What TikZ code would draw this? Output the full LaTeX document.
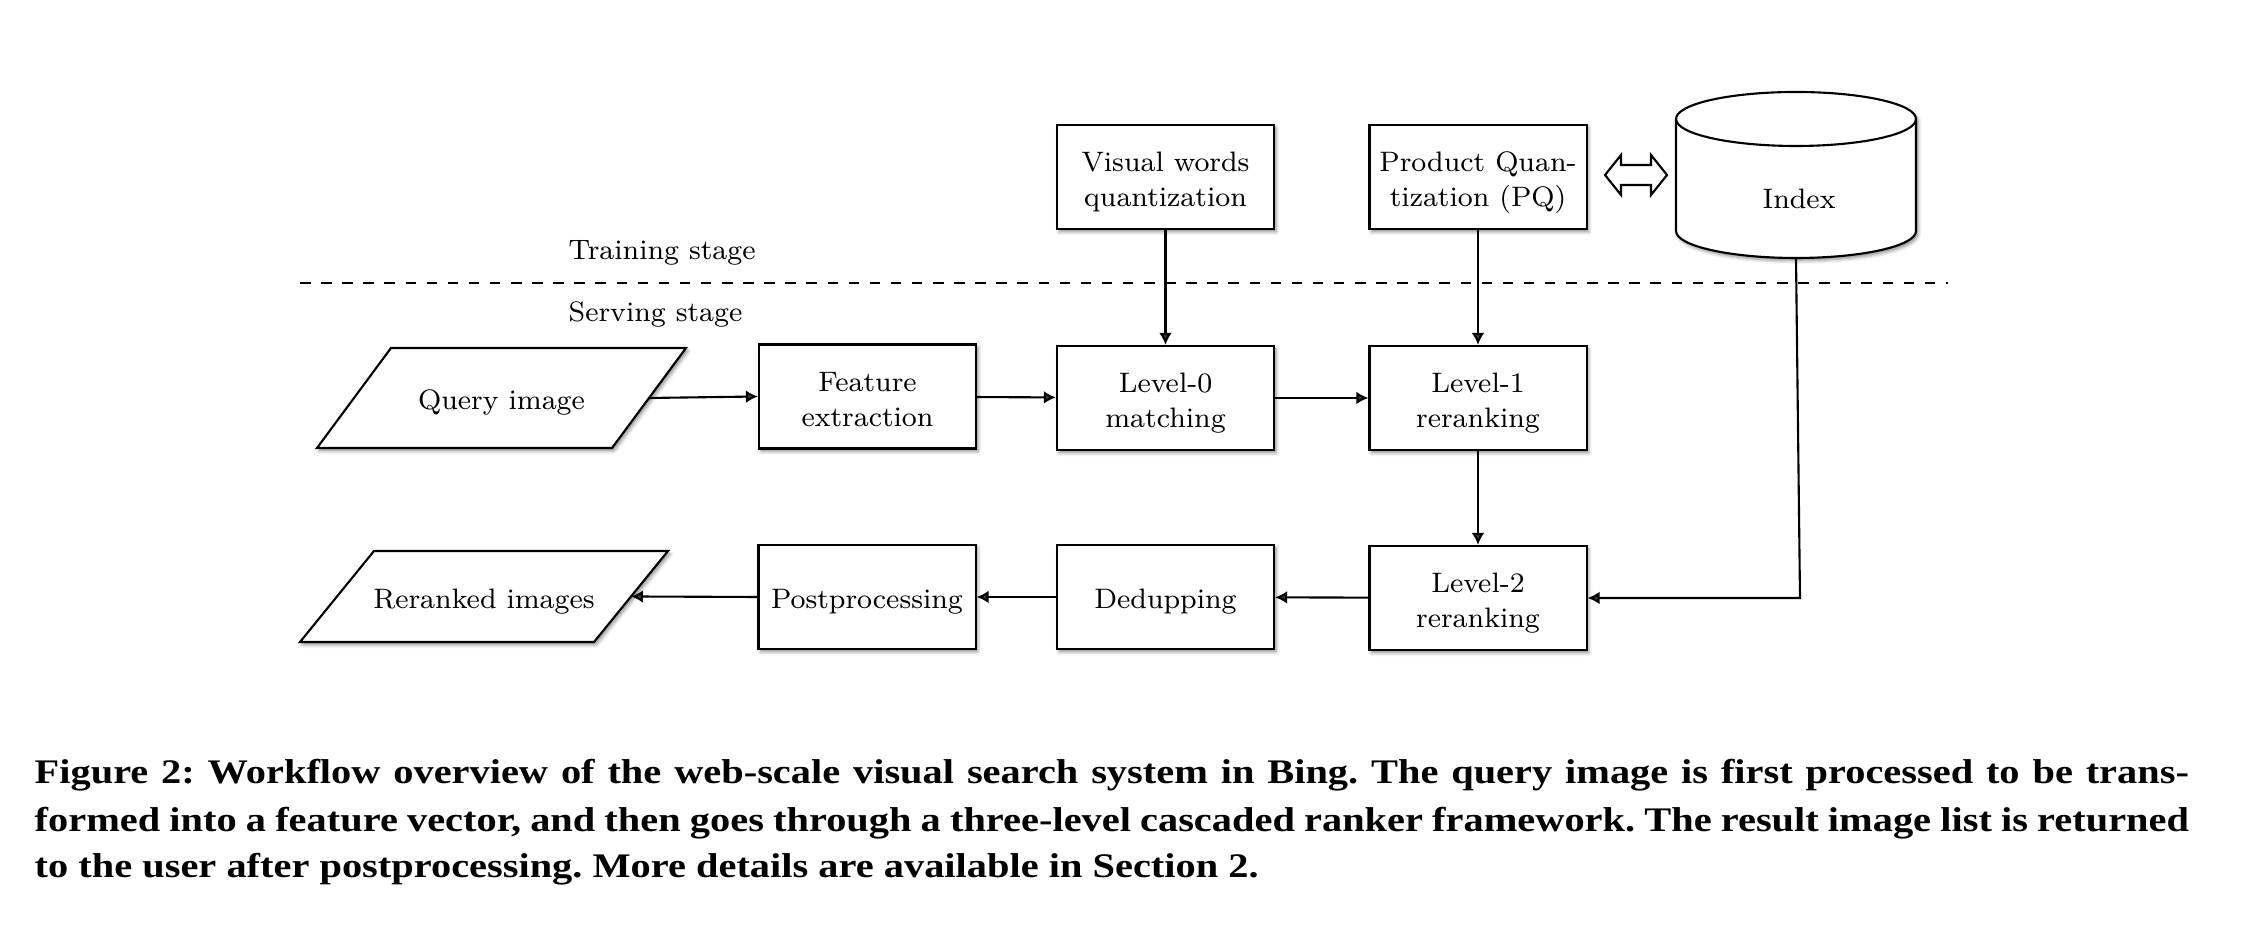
\documentclass[tikz,border=0pt]{standalone}
\usepackage{fontspec}
\newfontfamily\capfont[FakeStretch=1.172]{Liberation Serif}
\usetikzlibrary{shapes.geometric,arrows.meta,shadows.blur}
\begin{document}
\frenchspacing
\begin{tikzpicture}[x=0.01cm,y=0.01cm,
  lbl/.style={font=\fontsize{8}{10}\selectfont},
  shd/.style={blur shadow={shadow xshift=0.6pt, shadow yshift=-0.8pt, shadow blur radius=1pt, shadow opacity=45}},
  boxbase/.style={draw, line width=0.6pt, fill=white, minimum width=2.17cm, minimum height=1.04cm,
    align=center, inner sep=0pt, lbl, shd},
  boxtwo/.style={boxbase, text height=19pt, text depth=2pt},
  boxone/.style={boxbase, text height=8.4pt, text depth=1.6pt},
  pshape/.style={draw, line width=0.6pt, fill=white, shd},
  ptext/.style={lbl, inner sep=0pt, text height=8.4pt, text depth=1.6pt},
  arr/.style={-{Latex[length=3.4pt,width=3.6pt]}, line width=0.6pt},
  captext/.style={anchor=base west, inner sep=0pt, font=\capfont\bfseries\fontsize{9.8}{11}\selectfont}]
\useasboundingbox (0,0) rectangle (2260,928);

% training stage
\node[boxtwo] (vw) at (1165.5,751) {Visual words\\quantization};
\node[boxtwo] (pq) at (1478,751) {Product Quan-\\tization (PQ)};

% index cylinder
\draw[line width=0.6pt, fill=white, shd] (1676,809) -- (1676,697)
  arc[start angle=180, end angle=360, x radius=120, y radius=27] -- (1916,809)
  arc[start angle=0, end angle=180, x radius=120, y radius=27] -- cycle;
\draw[line width=0.6pt] (1676,809) arc[start angle=180, end angle=360, x radius=120, y radius=27];
\node[lbl, inner sep=0pt] (index) at (1799,729) {Index};
\coordinate (idxb) at (1796,670);

% double arrow between PQ and index
\draw[line width=0.6pt, fill=white] (1605,753) -- (1621,773) -- (1621,763) -- (1651,763) -- (1651,773)
  -- (1667,753) -- (1651,733) -- (1651,743) -- (1621,743) -- (1621,733) -- cycle;

% stage separator
\node[lbl, anchor=base west, inner sep=0pt] (train) at (568,668) {Training stage};
\draw[dashed, line width=0.6pt] (300,645) -- (1948,645);
\node[lbl, anchor=base west, inner sep=0pt] (serve) at (568,606) {Serving stage};

% serving stage: parallelograms (input / output)
\draw[pshape] (317,480) -- (612,480) -- (686,580) -- (391,580) -- cycle;
\node[ptext] (q) at (501.5,530) {Query image};
\coordinate (qr) at (649,530);
\draw[pshape] (300,286) -- (594,286) -- (668,377) -- (374,377) -- cycle;
\node[ptext] (rr) at (484,331.5) {Reranked images};
\coordinate (rrr) at (631,331.5);

\node[boxtwo] (fe) at (867.5,531.5) {Feature\\extraction};
\node[boxtwo] (l0) at (1165.5,530) {Level-0\\matching};
\node[boxtwo] (l1) at (1478,530) {Level-1\\reranking};
\node[boxtwo] (l2) at (1478,330) {Level-2\\reranking};
\node[boxone] (dd) at (1165.5,331) {Dedupping};
\node[boxone] (pp) at (867,331) {Postprocessing};
\coordinate (c) at (1800,330);

\draw[arr] (vw) -- (l0);
\draw[arr] (pq) -- (l1);
\draw[arr] (qr) -- (fe.west);
\draw[arr] (fe) -- (l0);
\draw[arr] (l0) -- (l1);
\draw[arr] (l1) -- (l2);
\draw[arr] (l2) -- (dd);
\draw[arr] (dd) -- (pp);
\draw[arr] (pp.west) -- (rrr);
\draw[arr] (idxb) -- (c) -- (l2.east);

% caption
\node[captext] (cap1) at (34,144) {\makebox[21.53cm][s]{Figure 2: Workflow overview of the web-scale visual search system in Bing. The query image is first processed to be trans-}};
\node[captext] (cap2) at (34,96) {\makebox[21.53cm][s]{formed into a feature vector, and then goes through a three-level cascaded ranker framework. The result image list is returned}};
\node[captext] (cap3) at (34,50) {to the user after postprocessing. More details are available in Section 2.};
\end{tikzpicture}
\end{document}
